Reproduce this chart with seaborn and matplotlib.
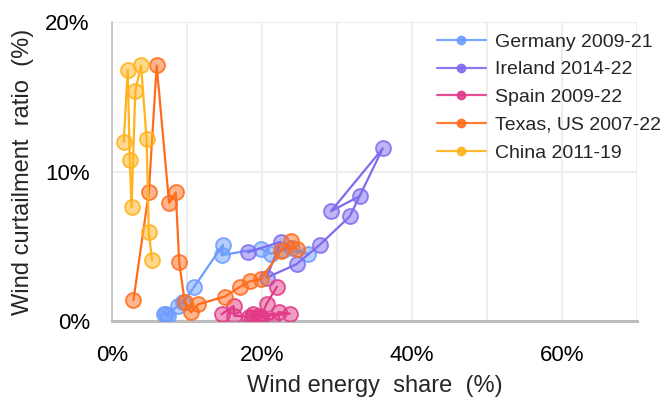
import numpy as np
import pandas as pd
import matplotlib
matplotlib.use("Agg")
import matplotlib.pyplot as plt
import seaborn as sns
from matplotlib.colors import to_rgba
from matplotlib.lines import Line2D

# wind energy share (%) and curtailment ratio (%), one point per year
de_share = [6.9, 7.5, 7.2, 8.8, 9.5, 10.9, 14.8, 14.6, 19.8, 21.2, 24.0, 26.1, 22.8]
de_curt = [0.5, 0.35, 0.45, 1.0, 1.25, 2.25, 5.1, 4.4, 4.85, 4.5, 4.9, 4.5, 4.75]

ie_share = [18.1, 22.5, 20.6, 24.6, 27.7, 31.7, 36.1, 29.2, 33.0]
ie_curt = [4.6, 5.3, 2.9, 3.8, 5.1, 7.0, 11.55, 7.35, 8.35]

es_share = [14.6, 16.2, 16.3, 18.3, 18.8, 19.7, 18.6, 19.4, 21.3, 22.2, 23.7, 19.9, 20.6, 22.0]
es_curt = [0.45, 1.0, 0.35, 0.3, 0.45, 0.3, 0.2, 0.35, 0.1, 0.6, 0.5, 0.3, 1.15, 2.3]

tx_share = [2.85, 4.9, 5.95, 7.6, 8.5, 8.95, 9.7, 10.5, 11.5, 15.05, 17.05, 18.35, 19.85, 22.5, 23.9, 24.6]
tx_curt = [1.4, 8.6, 17.1, 7.9, 8.6, 3.95, 1.25, 0.57, 1.12, 1.64, 2.29, 2.65, 2.8, 4.69, 5.35, 4.8]

cn_share = [1.56, 2.09, 2.36, 2.6, 3.1, 3.87, 4.6, 4.9, 5.33]
cn_curt = [12.0, 16.8, 10.75, 7.6, 15.4, 17.1, 12.2, 5.95, 4.07]

series = [
    ("Germany 2009-21", de_share, de_curt, "#6d9dff"),
    ("Ireland 2014-22", ie_share, ie_curt, "#7e6cf0"),
    ("Spain 2009-22", es_share, es_curt, "#e23a88"),
    ("Texas, US 2007-22", tx_share, tx_curt, "#ff6d1c"),
    ("China 2011-19", cn_share, cn_curt, "#ffb31c"),
]

sns.set_theme(style="white")
plt.rcParams["font.family"] = ["Liberation Sans", "DejaVu Sans"]

fig = plt.figure(figsize=(6.67, 4.04), dpi=100)
ax = fig.add_axes([0.168, 0.2054, 0.787, 0.740])

handles = []
for name, xs, ys, col in series:
    df = pd.DataFrame({"share": xs, "curt": ys})
    sns.lineplot(data=df, x="share", y="curt", sort=False, estimator=None,
                 color=col, linewidth=1.6, ax=ax, zorder=3)
    sns.scatterplot(data=df, x="share", y="curt", s=115, linewidth=1.4,
                    color=col, ax=ax, zorder=3)
    pts = ax.collections[-1]
    pts.set_facecolor(to_rgba(col, 0.5))
    pts.set_edgecolor(to_rgba(col, 0.85))
    handles.append(Line2D([0], [0], color=col, lw=1.6, marker="o", markersize=6,
                          markerfacecolor=to_rgba(col, 0.6),
                          markeredgecolor=to_rgba(col, 0.8), alpha=0.9,
                          label=name))

ax.set_xlim(0, 70)
ax.set_ylim(0, 20)
ax.set_xticks([0, 20, 40, 60])
ax.set_xticks([10, 30, 50, 70], minor=True)
ax.set_yticks([0, 10, 20])
ax.set_xticklabels(["0%", "20%", "40%", "60%"])
ax.set_yticklabels(["0%", "10%", "20%"])
ax.grid(True, which="both", color="#ececec", lw=1.3, zorder=0)
ax.set_axisbelow(True)
ax.tick_params(axis="both", which="both", length=0, labelsize=16, colors="black")
ax.tick_params(axis="x", pad=17)
ax.tick_params(axis="y", pad=16)

for s in ["top", "right"]:
    ax.spines[s].set_visible(False)
ax.spines["left"].set_color("#c4c4c4")
ax.spines["left"].set_linewidth(1.3)
ax.spines["bottom"].set_color("#bdbdbd")
ax.spines["bottom"].set_linewidth(2.2)

ax.set_xlabel("Wind energy  share  (%)", fontsize=17, labelpad=7)
ax.set_ylabel("Wind curtailment  ratio  (%)", fontsize=17, labelpad=8)

ax.legend(handles=handles, loc="upper left", bbox_to_anchor=(0.619, 0.963),
          frameon=False, fontsize=14, handlelength=2.5, handletextpad=0.5,
          labelspacing=0.52, borderpad=0, borderaxespad=0)

fig.savefig("out.png", dpi=100)
